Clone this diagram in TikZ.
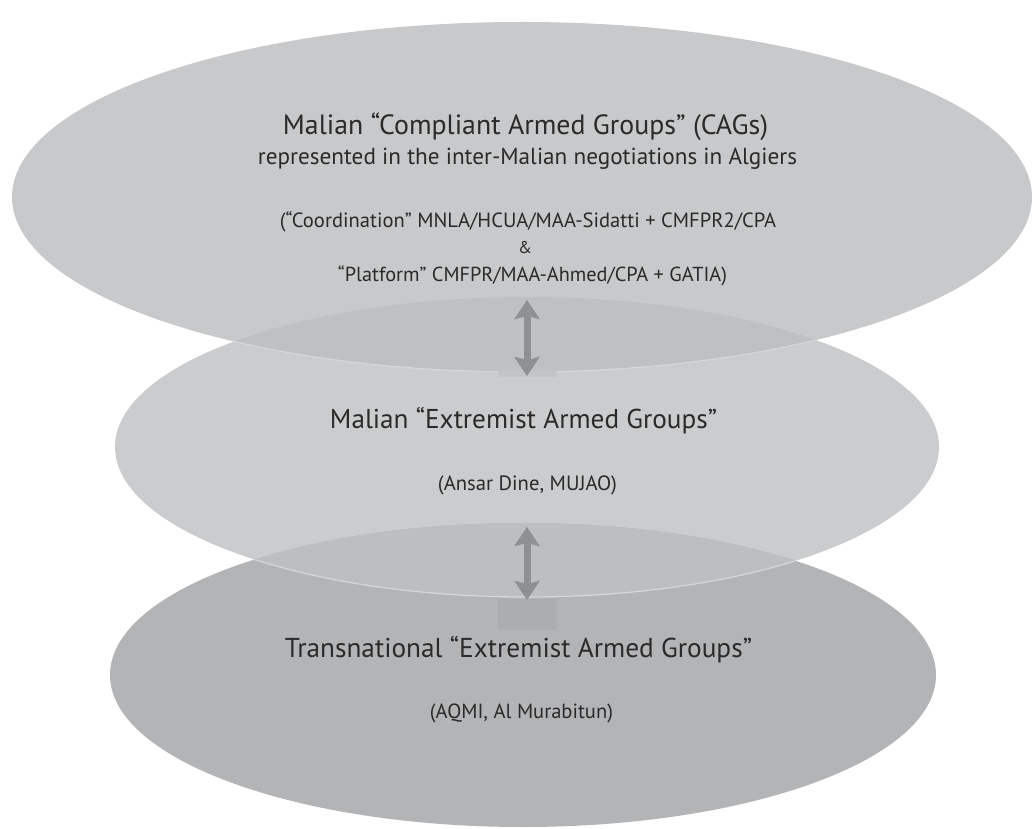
\documentclass[tikz,border=0pt]{standalone}
\usepackage{fontspec}
\setmainfont{PT Sans}
\usetikzlibrary{arrows.meta,shapes.geometric}
\definecolor{topc}{HTML}{C8C9CA}
\definecolor{midc}{HTML}{CBCCCD}
\definecolor{botc}{HTML}{B3B4B6}
\definecolor{ovA}{HTML}{BFC0C1}
\definecolor{ovB}{HTML}{BDBEBF}
\definecolor{edgec}{HTML}{D6D7D8}
\definecolor{patchA}{HTML}{C3C4C5}
\definecolor{patchB}{HTML}{ACADAF}
\definecolor{arrowc}{HTML}{8F9092}
\definecolor{textc}{HTML}{2A2A2A}
\newcommand{\fitw}[2]{\resizebox{#1pt}{!}{#2}}
\begin{document}
\begin{tikzpicture}[x=1pt,y=-1pt,
  ell/.style={ellipse,draw=none,inner sep=0pt},
  txt/.style={anchor=base,inner sep=0pt,text=textc},
  patch/.style={rectangle,draw=none,inner sep=0pt},
  conn/.style={draw=arrowc,line width=7pt,
    {Stealth[width=25pt,length=19pt,inset=3pt]}-{Stealth[width=25pt,length=19pt,inset=3pt]}}]
\fill[white] (0,0) rectangle (1034,829);
\useasboundingbox (0,0) rectangle (1034,829);
% ellipses
\node[ell,fill=topc,minimum width=1020pt,minimum height=350pt] (topE) at (522,197) {};
\node[ell,fill=midc,minimum width=824pt,minimum height=300pt] (midE) at (527,447) {};
\node[ell,fill=botc,minimum width=826pt,minimum height=304pt] (botE) at (523,675) {};
% overlaps
\begin{scope}
  \clip (522,197) ellipse (510pt and 175pt);
  \fill[ovA] (527,447) ellipse (412pt and 150pt);
\end{scope}
\begin{scope}
  \clip (523,675) ellipse (413pt and 152pt);
  \fill[ovB] (527,447) ellipse (412pt and 150pt);
\end{scope}
% light lower edges
\begin{scope}
  \clip (527,447) ellipse (412pt and 150pt);
  \draw[edgec,line width=1.2pt] (522,197) ellipse (510pt and 175pt);
\end{scope}
\begin{scope}
  \clip (523,675) ellipse (413pt and 152pt);
  \draw[edgec,line width=1.2pt] (527,447) ellipse (412pt and 150pt);
\end{scope}
% patches
\node[patch,fill=patchA,minimum width=59pt,minimum height=7pt] (pA) at (527.5,373.5) {};
\node[patch,fill=patchB,minimum width=59pt,minimum height=31pt] (pB) at (527.5,614.5) {};
% arrows
\coordinate (a1s) at (527,300);
\coordinate (a1e) at (527,376);
\coordinate (a2s) at (527,527);
\coordinate (a2e) at (527,600);
\draw[conn] (a1s) -- (a1e);
\draw[conn] (a2s) -- (a2e);
% texts
\node[txt] (t1) at (525.5,135) {\fitw{485}{Malian “Compliant Armed Groups” (CAGs)}};
\node[txt] (t2) at (527.5,165) {\fitw{539}{represented in the inter-Malian negotiations in Algiers}};
\node[txt] (t3) at (528,228) {\fitw{496}{(“Coordination” MNLA/HCUA/MAA-Sidatti + CMFPR2/CPA}};
\node[txt,font=\fontsize{17}{20}\selectfont] (t4) at (525,254) {\&};
\node[txt] (t5) at (532.5,282) {\fitw{389}{“Platform” CMFPR/MAA-Ahmed/CPA + GATIA)}};
\node[txt] (m1) at (523.5,428) {\fitw{387}{Malian “Extremist Armed Groups”}};
\node[txt] (m2) at (527.5,490) {\fitw{179}{(Ansar Dine, MUJAO)}};
\node[txt] (b1) at (518.5,657) {\fitw{467}{Transnational “Extremist Armed Groups”}};
\node[txt] (b2) at (521.5,718) {\fitw{183}{(AQMI, Al Murabitun)}};
\end{tikzpicture}
\end{document}
